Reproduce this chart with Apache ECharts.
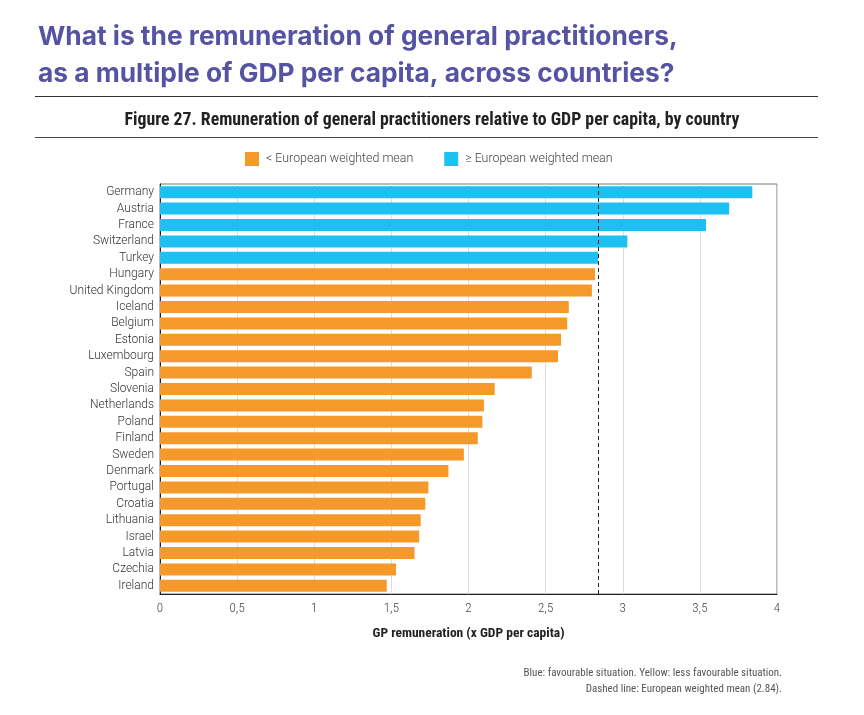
<!DOCTYPE html>
<html>
<head>
<meta charset="utf-8">
<script src="https://cdn.jsdelivr.net/npm/echarts@6/dist/echarts.min.js"></script>
<style>
  html, body { margin: 0; padding: 0; background: #fff; }
  #chart { width: 864px; height: 715px; }
</style>
</head>
<body>
<div id="chart"></div>
<script>
// GP remuneration relative to GDP per capita
var countries = ['Germany', 'Austria', 'France', 'Switzerland', 'Turkey', 'Hungary',
  'United Kingdom', 'Iceland', 'Belgium', 'Estonia', 'Luxembourg', 'Spain', 'Slovenia',
  'Netherlands', 'Poland', 'Finland', 'Sweden', 'Denmark', 'Portugal', 'Croatia',
  'Lithuania', 'Israel', 'Latvia', 'Czechia', 'Ireland'];
var values = [3.84, 3.69, 3.54, 3.03, 2.84, 2.82, 2.80, 2.65, 2.64, 2.60, 2.58, 2.41, 2.17,
  2.10, 2.09, 2.06, 1.97, 1.87, 1.74, 1.72, 1.69, 1.68, 1.65, 1.53, 1.47];
var euMean = 2.84;
var seriesNames = ['< European weighted mean', '\u2265 European weighted mean'];

var condensed = '"Roboto Condensed", "Liberation Sans Narrow", "DejaVu Sans Condensed", Roboto, sans-serif';

var below = values.map(function (v) { return v < euMean ? v : '-'; });
var above = values.map(function (v) { return v >= euMean ? v : '-'; });

var chartDom = document.getElementById('chart');
var myChart = echarts.init(chartDom);
var option;

option = {
  animation: false,
  title: [
    {
      text: 'What is the remuneration of general practitioners,\nas a multiple of GDP per capita, across countries?',
      left: 33,
      top: 14,
      textStyle: { fontFamily: 'Inter', fontWeight: 700, fontSize: 26.3, lineHeight: 37, color: '#5753a3' }
    },
    {
      text: 'Figure 27. Remuneration of general practitioners relative to GDP per capita, by country',
      left: 'center',
      top: 107,
      textStyle: { fontFamily: condensed, fontWeight: 700, fontSize: 17.8, color: '#222' }
    }
  ],
  graphic: [
    { type: 'line', shape: { x1: 35, y1: 96.5, x2: 818, y2: 96.5 }, style: { stroke: '#333', lineWidth: 1 } },
    { type: 'line', shape: { x1: 35, y1: 137.5, x2: 818, y2: 137.5 }, style: { stroke: '#444', lineWidth: 1 } },
    {
      type: 'text', x: 782, y: 665,
      style: {
        text: 'Blue: favourable situation. Yellow: less favourable situation.\nDashed line: European weighted mean (2.84).',
        align: 'right', verticalAlign: 'top',
        fontFamily: condensed, fontWeight: 400, fontSize: 11, lineHeight: 16, fill: '#555'
      }
    }
  ],
  legend: {
    top: 152,
    left: 245,
    padding: 0,
    itemWidth: 14,
    itemHeight: 14,
    itemGap: 31,
    icon: 'rect',
    textStyle: { fontFamily: 'Roboto', fontWeight: 300, fontSize: 12.4, color: '#444', padding: [0, 0, 0, 2] },
    data: seriesNames
  },
  grid: {
    left: 160,
    right: 87,
    top: 184,
    bottom: 121,
    show: true,
    borderColor: '#777',
    borderWidth: 1
  },
  xAxis: {
    type: 'value',
    min: 0,
    max: 4,
    interval: 0.5,
    name: 'GP remuneration (x GDP per capita)',
    nameLocation: 'middle',
    nameGap: 33,
    nameTextStyle: { fontFamily: condensed, fontWeight: 700, fontSize: 13.5, color: '#222' },
    axisLine: { show: true, lineStyle: { color: '#222' } },
    axisTick: { show: false },
    axisLabel: {
      fontFamily: condensed, fontWeight: 300, fontSize: 13, color: '#444', margin: 8,
      formatter: function (v) { return String(v).replace('.', ','); }
    },
    splitLine: { show: true, lineStyle: { color: '#dcdcdc' } }
  },
  yAxis: {
    type: 'category',
    inverse: true,
    data: countries,
    axisLine: { show: true, lineStyle: { color: '#222' } },
    axisTick: { show: false },
    axisLabel: { interval: 0, fontFamily: 'Roboto', fontWeight: 300, fontSize: 12, color: '#333', margin: 6 }
  },
  series: [
    {
      name: seriesNames[0],
      type: 'bar',
      stack: 'gp',
      barWidth: 12,
      itemStyle: { color: '#f5992a' },
      data: below
    },
    {
      name: seriesNames[1],
      type: 'bar',
      stack: 'gp',
      barWidth: 12,
      itemStyle: { color: '#1cc1f1' },
      data: above,
      markLine: {
        silent: true,
        symbol: 'none',
        label: { show: false },
        lineStyle: { color: '#222', type: [4, 3], width: 1 },
        data: [{ xAxis: euMean }]
      }
    }
  ]
};

option && myChart.setOption(option);
window.addEventListener('resize', function () { myChart.resize(); });
</script>
</body>
</html>
